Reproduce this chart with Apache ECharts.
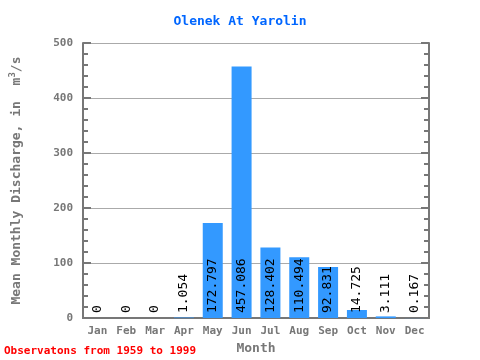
<!DOCTYPE html>
<html><head><meta charset="utf-8">
<script src="https://cdn.jsdelivr.net/npm/echarts@6/dist/echarts.min.js"></script>
<style>html,body{margin:0;padding:0;background:#fff}#c{width:480px;height:360px}</style>
</head><body><div id="c"></div>
<script>
const months = ['Jan','Feb','Mar','Apr','May','Jun','Jul','Aug','Sep','Oct','Nov','Dec'];
const discharge = [0, 0, 0, 1.054, 172.797, 457.086, 128.402, 110.494, 92.831, 14.725, 3.111, 0.167];
const labels = ['0','0','0','1.054','172.797','457.086','128.402','110.494','92.831','14.725','3.111','0.167'];
const yTicks = [0, 100, 200, 300, 400, 500];

const font = 'DejaVu Sans Mono';
const axisCol = '#777777';
const chart = echarts.init(document.getElementById('c'));
chart.setOption({
  animation: false,
  title: {text: 'Olenek At Yarolin', left: 'center', top: 10,
    textStyle: {fontFamily: font, fontSize: 13, fontWeight: 'bold', color: '#0066ff'}},
  graphic: [{type: 'text', left: 4, top: 346,
    style: {text: 'Observatons from 1959 to 1999', fontFamily: font, fontSize: 11, fontWeight: 'bold', fill: '#ff0000'}}],
  grid: {left: 79, right: 51, top: 43, bottom: 38},
  xAxis: [{
    type: 'category', data: months, position: 'bottom',
    name: 'Month', nameLocation: 'middle', nameGap: 22,
    nameTextStyle: {fontFamily: font, fontSize: 13, fontWeight: 'bold', color: axisCol},
    axisLine: {lineStyle: {color: axisCol, width: 2}},
    axisTick: {inside: true, length: 5, lineStyle: {color: axisCol, width: 2}},
    axisLabel: {fontFamily: font, fontSize: 11, fontWeight: 'bold', color: axisCol, margin: 8}
  }, {
    type: 'category', data: months, position: 'top',
    axisLine: {lineStyle: {color: axisCol, width: 2}},
    axisTick: {inside: true, length: 8, lineStyle: {color: axisCol, width: 2}},
    axisLabel: {show: false}
  }],
  yAxis: [{
    type: 'value', min: 0, max: 500, interval: 100,
    name: 'Mean Monthly Discharge, in  m{sup|3}/s', nameLocation: 'middle', nameGap: 58,
    nameTextStyle: {fontFamily: font, fontSize: 13, fontWeight: 'bold', color: axisCol,
      rich: {sup: {fontFamily: font, fontSize: 9, fontWeight: 'bold', color: axisCol, verticalAlign: 'top', padding: [0,0,8,0]}}},
    axisLine: {show: true, lineStyle: {color: axisCol, width: 2}},
    axisTick: {show: true, inside: true, length: 8, lineStyle: {color: axisCol, width: 2}},
    minorTick: {show: true, splitNumber: 5, length: 5, lineStyle: {color: axisCol, width: 2}},
    axisLabel: {fontFamily: font, fontSize: 11, fontWeight: 'bold', color: axisCol, margin: 10},
    splitLine: {show: true, lineStyle: {color: '#aaaaaa', width: 1}}
  }, {
    type: 'value', min: 0, max: 500, interval: 100, position: 'right',
    axisLine: {show: true, lineStyle: {color: axisCol, width: 2}},
    axisTick: {show: true, inside: true, length: 8, lineStyle: {color: axisCol, width: 2}},
    minorTick: {show: true, splitNumber: 5, length: 5, lineStyle: {color: axisCol, width: 2}},
    axisLabel: {show: false}, splitLine: {show: false}
  }],
  series: [{
    type: 'bar', data: discharge, barWidth: 20,
    itemStyle: {color: '#3399ff'},
    label: {show: true, position: 'insideBottom', rotate: 90, align: 'left', verticalAlign: 'middle',
      distance: 5, fontFamily: font, fontSize: 13, color: '#000',
      formatter: p => labels[p.dataIndex]}
  }]
});
</script></body></html>
